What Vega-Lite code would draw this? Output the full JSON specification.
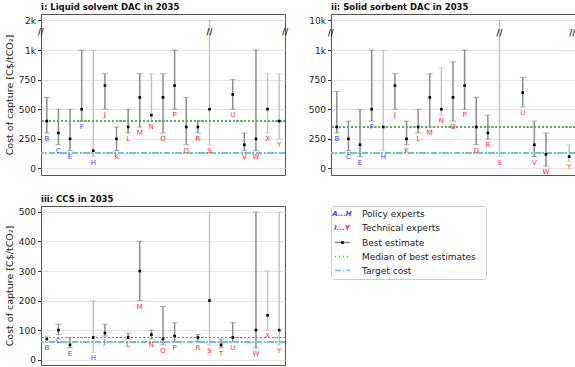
{
  "$schema": "https://vega.github.io/schema/vega-lite/v6.json",
  "padding": {"top": 2, "left": 3, "right": 0, "bottom": 0},
  "background": "white",
  "config": {
    "font": "DejaVu Sans",
    "view": {"stroke": "#555555", "strokeWidth": 1},
    "axis": {"labelFontSize": 9, "labelColor": "#222222", "titleFontSize": 9.5, "titleFontWeight": "normal", "titleColor": "#222222", "domain": false, "tickColor": "#333333", "tickSize": 3.5, "gridColor": "#e4e4e4", "gridWidth": 1.2, "labelPadding": 2, "titlePadding": 4, "labelOverlap": false},
    "title": {"fontSize": 8.5, "fontWeight": "bold", "anchor": "start", "frame": "group", "offset": 3, "color": "#111111"}
  },
  "datasets": {
    "liquid": [
      {"expert": "B", "lo": 300, "best": 400, "hi": 600, "group": "policy", "certainty": "high"},
      {"expert": "C", "lo": 200, "best": 300, "hi": 500, "group": "policy", "certainty": "high"},
      {"expert": "E", "lo": 150, "best": 250, "hi": 500, "group": "policy", "certainty": "high"},
      {"expert": "F", "lo": 400, "best": 500, "hi": 1000, "group": "policy", "certainty": "high"},
      {"expert": "H", "lo": 100, "best": 150, "hi": 1000, "group": "policy", "certainty": "low"},
      {"expert": "J", "lo": 500, "best": 700, "hi": 800, "group": "technical", "certainty": "high"},
      {"expert": "K", "lo": 150, "best": 250, "hi": 350, "group": "technical", "certainty": "high"},
      {"expert": "L", "lo": 300, "best": 350, "hi": 500, "group": "technical", "certainty": "high"},
      {"expert": "M", "lo": 350, "best": 600, "hi": 800, "group": "technical", "certainty": "high"},
      {"expert": "N", "lo": 400, "best": 450, "hi": 800, "group": "technical", "certainty": "low"},
      {"expert": "O", "lo": 300, "best": 600, "hi": 800, "group": "technical", "certainty": "high"},
      {"expert": "P", "lo": 500, "best": 700, "hi": 1000, "group": "technical", "certainty": "high"},
      {"expert": "Q", "lo": 200, "best": 350, "hi": 600, "group": "technical", "certainty": "high"},
      {"expert": "R", "lo": 300, "best": 350, "hi": 400, "group": "technical", "certainty": "high"},
      {"expert": "S", "lo": 200, "best": 500, "hi": 2000, "group": "technical", "certainty": "low"},
      {"expert": "U", "lo": 500, "best": 625, "hi": 750, "group": "technical", "certainty": "high"},
      {"expert": "V", "lo": 150, "best": 200, "hi": 300, "group": "technical", "certainty": "high"},
      {"expert": "W", "lo": 150, "best": 250, "hi": 1000, "group": "technical", "certainty": "high"},
      {"expert": "X", "lo": 300, "best": 500, "hi": 800, "group": "technical", "certainty": "low"},
      {"expert": "Y", "lo": 250, "best": 400, "hi": 800, "group": "technical", "certainty": "low"}
    ],
    "solid": [
      {"expert": "B", "lo": 300, "best": 350, "hi": 650, "group": "policy", "certainty": "high"},
      {"expert": "C", "lo": 150, "best": 250, "hi": 400, "group": "policy", "certainty": "high"},
      {"expert": "E", "lo": 100, "best": 200, "hi": 500, "group": "policy", "certainty": "high"},
      {"expert": "F", "lo": 400, "best": 500, "hi": 1000, "group": "policy", "certainty": "high"},
      {"expert": "H", "lo": 150, "best": 350, "hi": 1000, "group": "policy", "certainty": "low"},
      {"expert": "J", "lo": 500, "best": 700, "hi": 800, "group": "technical", "certainty": "high"},
      {"expert": "K", "lo": 200, "best": 250, "hi": 400, "group": "technical", "certainty": "high"},
      {"expert": "L", "lo": 300, "best": 350, "hi": 500, "group": "technical", "certainty": "high"},
      {"expert": "M", "lo": 350, "best": 600, "hi": 800, "group": "technical", "certainty": "high"},
      {"expert": "N", "lo": 450, "best": 500, "hi": 850, "group": "technical", "certainty": "low"},
      {"expert": "O", "lo": 400, "best": 600, "hi": 900, "group": "technical", "certainty": "high"},
      {"expert": "P", "lo": 500, "best": 700, "hi": 1000, "group": "technical", "certainty": "high"},
      {"expert": "Q", "lo": 200, "best": 350, "hi": 600, "group": "technical", "certainty": "high"},
      {"expert": "R", "lo": 250, "best": 300, "hi": 450, "group": "technical", "certainty": "high"},
      {"expert": "S", "lo": 100, "best": null, "hi": 10000, "group": "technical", "certainty": "low"},
      {"expert": "U", "lo": 520, "best": 640, "hi": 770, "group": "technical", "certainty": "high"},
      {"expert": "V", "lo": 100, "best": 200, "hi": 400, "group": "technical", "certainty": "high"},
      {"expert": "W", "lo": 20, "best": 120, "hi": 300, "group": "technical", "certainty": "high"},
      {"expert": "Y", "lo": 60, "best": 100, "hi": 200, "group": "technical", "certainty": "low"}
    ],
    "ccs": [
      {"expert": "B", "lo": 60, "best": 70, "hi": 80, "group": "policy", "certainty": "low"},
      {"expert": "C", "lo": 85, "best": 100, "hi": 120, "group": "policy", "certainty": "high"},
      {"expert": "E", "lo": 40, "best": 50, "hi": 75, "group": "policy", "certainty": "high"},
      {"expert": "H", "lo": 25, "best": 75, "hi": 200, "group": "policy", "certainty": "low"},
      {"expert": "J", "lo": 80, "best": 90, "hi": 120, "group": "technical", "certainty": "high"},
      {"expert": "L", "lo": 70, "best": 75, "hi": 90, "group": "technical", "certainty": "high"},
      {"expert": "M", "lo": 200, "best": 300, "hi": 400, "group": "technical", "certainty": "high"},
      {"expert": "N", "lo": 70, "best": 85, "hi": 100, "group": "technical", "certainty": "high"},
      {"expert": "O", "lo": 50, "best": 70, "hi": 180, "group": "technical", "certainty": "high"},
      {"expert": "P", "lo": 60, "best": 80, "hi": 125, "group": "technical", "certainty": "high"},
      {"expert": "R", "lo": 60, "best": 75, "hi": 85, "group": "technical", "certainty": "high"},
      {"expert": "S", "lo": 50, "best": 200, "hi": 500, "group": "technical", "certainty": "low"},
      {"expert": "T", "lo": 40, "best": 50, "hi": 70, "group": "technical", "certainty": "high"},
      {"expert": "U", "lo": 60, "best": 75, "hi": 125, "group": "technical", "certainty": "high"},
      {"expert": "W", "lo": 40, "best": 100, "hi": 500, "group": "technical", "certainty": "high"},
      {"expert": "X", "lo": 100, "best": 150, "hi": 300, "group": "technical", "certainty": "low"},
      {"expert": "Y", "lo": 50, "best": 100, "hi": 500, "group": "technical", "certainty": "low"}
    ],
    "legend": [
      {"order": 1, "label": "Policy experts", "kind": "policy", "sample": "A...H"},
      {"order": 2, "label": "Technical experts", "kind": "technical", "sample": "I...Y"},
      {"order": 3, "label": "Best estimate", "kind": "best", "sample": ""},
      {"order": 4, "label": "Median of best estimates", "kind": "median", "sample": ""},
      {"order": 5, "label": "Target cost", "kind": "target", "sample": ""}
    ]
  },
  "columns": 2,
  "align": "each",
  "spacing": {"row": 18, "column": 18},
  "concat": [
    {
      "title": "i: Liquid solvent DAC in 2035",
      "width": 244,
      "height": 161,
      "data": {"name": "liquid"},
      "layer": [
        {"mark": {"type": "rule", "strokeWidth": 1.5},
         "encoding": {
           "x": {"field": "expert", "type": "nominal", "axis": null,
             "scale": {"type": "point", "padding": 0.5, "domain": ["B","C","E","F","H","J","K","L","M","N","O","P","Q","R","S","T","U","V","W","X","Y"]}},
           "y": {"field": "lo", "type": "quantitative",
             "scale": {"domain": [-55, 1000, 2000, 2212], "range": [161, 36, 6.3, 0], "nice": false, "zero": false},
             "axis": {"values": [0, 250, 500, 750, 1000, 2000], "tickCount": 20, "labelExpr": "datum.value >= 1000 ? (datum.value / 1000) + 'k' : datum.value", "title": "Cost of capture [C$/tCO₂]", "grid": true}},
           "y2": {"field": "hi"},
           "color": {"field": "certainty", "type": "nominal", "legend": null,
             "scale": {"domain": ["high", "low", "policy", "technical", "best", "median", "target"], "range": ["#8c8c8c", "#c4c4c4", "#3d3dff", "#ff2b2b", "#8c8c8c", "#5aae5a", "#6cc8c8"]}}
         }},
        {"mark": {"type": "tick", "size": 6, "thickness": 1},
         "encoding": {"x": {"field": "expert", "type": "nominal"}, "y": {"field": "hi", "type": "quantitative"}, "color": {"field": "certainty", "type": "nominal", "legend": null}}},
        {"mark": {"type": "tick", "size": 6, "thickness": 1},
         "encoding": {"x": {"field": "expert", "type": "nominal"}, "y": {"field": "lo", "type": "quantitative"}, "color": {"field": "certainty", "type": "nominal", "legend": null}}},
        {"mark": {"type": "rule", "color": "#5aae5a", "strokeWidth": 1.2, "strokeDash": [1.3, 2.6]},
         "encoding": {"y": {"datum": 400, "type": "quantitative"}}},
        {"mark": {"type": "rule", "color": "#6cc8c8", "strokeWidth": 1.5, "strokeDash": [6, 2, 1.5, 2]},
         "encoding": {"y": {"datum": 130, "type": "quantitative"}}},
        {"mark": {"type": "square", "size": 7, "color": "black", "opacity": 1},
         "encoding": {"x": {"field": "expert", "type": "nominal"}, "y": {"field": "best", "type": "quantitative"}}},
        {"mark": {"type": "text", "fontSize": 7, "baseline": "top", "dy": 2},
         "encoding": {"x": {"field": "expert", "type": "nominal"}, "y": {"field": "lo", "type": "quantitative"}, "text": {"field": "expert"},
           "color": {"field": "group", "type": "nominal", "legend": null}}},
        {"data": {"values": [{"at": "S"}]},
         "mark": {"type": "text", "fontSize": 8, "fontWeight": "bold", "text": "//", "color": "#111111"},
         "encoding": {"x": {"field": "at", "type": "nominal"}, "y": {"datum": 1560, "type": "quantitative"}}},
        {"data": {"values": [{"at": "B"}]},
         "mark": {"type": "text", "fontSize": 8, "fontWeight": "bold", "text": "//", "color": "#111111", "dx": -6},
         "encoding": {"x": {"field": "at", "type": "nominal"}, "y": {"datum": 1560, "type": "quantitative"}}},
        {"data": {"values": [{"at": "Y"}]},
         "mark": {"type": "text", "fontSize": 8, "fontWeight": "bold", "text": "//", "color": "#111111", "dx": 6},
         "encoding": {"x": {"field": "at", "type": "nominal"}, "y": {"datum": 1560, "type": "quantitative"}}}
      ]
    },
    {
      "title": "ii: Solid sorbent DAC in 2035",
      "width": 244,
      "height": 161,
      "data": {"name": "solid"},
      "layer": [
        {"mark": {"type": "rule", "strokeWidth": 1.5},
         "encoding": {
           "x": {"field": "expert", "type": "nominal", "axis": null,
             "scale": {"type": "point", "padding": 0.5, "domain": ["B","C","E","F","H","J","K","L","M","N","O","P","Q","R","S","T","U","V","W","X","Y"]}},
           "y": {"field": "lo", "type": "quantitative",
             "scale": {"domain": [-55, 1000, 10000, 11900], "range": [161, 36, 6.3, 0], "nice": false, "zero": false},
             "axis": {"values": [0, 250, 500, 750, 1000, 10000], "tickCount": 20, "labelExpr": "datum.value >= 1000 ? (datum.value / 1000) + 'k' : datum.value", "title": null, "grid": true}},
           "y2": {"field": "hi"},
           "color": {"field": "certainty", "type": "nominal", "legend": null}
         }},
        {"mark": {"type": "tick", "size": 6, "thickness": 1},
         "encoding": {"x": {"field": "expert", "type": "nominal"}, "y": {"field": "hi", "type": "quantitative"}, "color": {"field": "certainty", "type": "nominal", "legend": null}}},
        {"mark": {"type": "tick", "size": 6, "thickness": 1},
         "encoding": {"x": {"field": "expert", "type": "nominal"}, "y": {"field": "lo", "type": "quantitative"}, "color": {"field": "certainty", "type": "nominal", "legend": null}}},
        {"mark": {"type": "rule", "color": "#5aae5a", "strokeWidth": 1.2, "strokeDash": [1.3, 2.6]},
         "encoding": {"y": {"datum": 350, "type": "quantitative"}}},
        {"mark": {"type": "rule", "color": "#6cc8c8", "strokeWidth": 1.5, "strokeDash": [6, 2, 1.5, 2]},
         "encoding": {"y": {"datum": 130, "type": "quantitative"}}},
        {"mark": {"type": "square", "size": 7, "color": "black", "opacity": 1},
         "encoding": {"x": {"field": "expert", "type": "nominal"}, "y": {"field": "best", "type": "quantitative"}}},
        {"mark": {"type": "text", "fontSize": 7, "baseline": "top", "dy": 2},
         "encoding": {"x": {"field": "expert", "type": "nominal"}, "y": {"field": "lo", "type": "quantitative"}, "text": {"field": "expert"},
           "color": {"field": "group", "type": "nominal", "legend": null}}},
        {"data": {"values": [{"at": "S"}]},
         "mark": {"type": "text", "fontSize": 8, "fontWeight": "bold", "text": "//", "color": "#111111"},
         "encoding": {"x": {"field": "at", "type": "nominal"}, "y": {"datum": 6000, "type": "quantitative"}}},
        {"data": {"values": [{"at": "B"}]},
         "mark": {"type": "text", "fontSize": 8, "fontWeight": "bold", "text": "//", "color": "#111111", "dx": -6},
         "encoding": {"x": {"field": "at", "type": "nominal"}, "y": {"datum": 6000, "type": "quantitative"}}},
        {"data": {"values": [{"at": "Y"}]},
         "mark": {"type": "text", "fontSize": 8, "fontWeight": "bold", "text": "//", "color": "#111111", "dx": 6, "align": "right"},
         "encoding": {"x": {"field": "at", "type": "nominal"}, "y": {"datum": 6000, "type": "quantitative"}}}
      ]
    },
    {
      "title": "iii: CCS in 2035",
      "width": 244,
      "height": 159,
      "data": {"name": "ccs"},
      "layer": [
        {"mark": {"type": "rule", "strokeWidth": 1.5},
         "encoding": {
           "x": {"field": "expert", "type": "nominal", "axis": null,
             "scale": {"type": "point", "padding": 0.5, "domain": ["B","C","E","F","H","J","K","L","M","N","O","P","Q","R","S","T","U","V","W","X","Y"]}},
           "y": {"field": "lo", "type": "quantitative",
             "scale": {"domain": [-18, 520], "nice": false, "zero": false},
             "axis": {"values": [0, 100, 200, 300, 400, 500], "tickCount": 20, "title": "Cost of capture [C$/tCO₂]", "grid": true}},
           "y2": {"field": "hi"},
           "color": {"field": "certainty", "type": "nominal", "legend": null}
         }},
        {"mark": {"type": "tick", "size": 6, "thickness": 1},
         "encoding": {"x": {"field": "expert", "type": "nominal"}, "y": {"field": "hi", "type": "quantitative"}, "color": {"field": "certainty", "type": "nominal", "legend": null}}},
        {"mark": {"type": "tick", "size": 6, "thickness": 1},
         "encoding": {"x": {"field": "expert", "type": "nominal"}, "y": {"field": "lo", "type": "quantitative"}, "color": {"field": "certainty", "type": "nominal", "legend": null}}},
        {"mark": {"type": "rule", "color": "#5aae5a", "strokeWidth": 1.2, "strokeDash": [1.3, 2.6]},
         "encoding": {"y": {"datum": 75, "type": "quantitative"}}},
        {"mark": {"type": "rule", "color": "#6cc8c8", "strokeWidth": 1.5, "strokeDash": [6, 2, 1.5, 2]},
         "encoding": {"y": {"datum": 60, "type": "quantitative"}}},
        {"mark": {"type": "square", "size": 7, "color": "black", "opacity": 1},
         "encoding": {"x": {"field": "expert", "type": "nominal"}, "y": {"field": "best", "type": "quantitative"}}},
        {"mark": {"type": "text", "fontSize": 7, "baseline": "top", "dy": 2},
         "encoding": {"x": {"field": "expert", "type": "nominal"}, "y": {"field": "lo", "type": "quantitative"}, "text": {"field": "expert"},
           "color": {"field": "group", "type": "nominal", "legend": null}}}
      ]
    },
    {
      "width": 155,
      "height": 73,
      "view": {"stroke": "#cccccc", "strokeWidth": 1, "cornerRadius": 3},
      "data": {"name": "legend"},
      "layer": [
        {"transform": [{"filter": "datum.sample != ''"}],
         "mark": {"type": "text", "fontSize": 7, "fontStyle": "italic", "fontWeight": "bold", "align": "center"},
         "encoding": {
           "y": {"field": "order", "type": "ordinal", "axis": null, "scale": {"type": "point", "padding": 0.6, "domain": [1, 2, 3, 4, 5]}},
           "x": {"datum": 11, "type": "quantitative", "scale": {"domain": [0, 155], "nice": false, "zero": false}, "axis": null},
           "text": {"field": "sample"},
           "color": {"field": "kind", "type": "nominal", "legend": null}
         }},
        {"transform": [{"filter": "datum.sample == ''"}],
         "mark": {"type": "rule", "strokeWidth": 1.5},
         "encoding": {
           "y": {"field": "order", "type": "ordinal"},
           "x": {"datum": 4, "type": "quantitative"},
           "x2": {"datum": 19},
           "color": {"field": "kind", "type": "nominal", "legend": null},
           "strokeDash": {"field": "kind", "type": "nominal", "legend": null,
             "scale": {"domain": ["best", "median", "target"], "range": [[1, 0], [1.3, 2.6], [6, 2, 1.5, 2]]}}
         }},
        {"transform": [{"filter": "datum.kind == 'best'"}],
         "mark": {"type": "square", "size": 7, "color": "black", "opacity": 1},
         "encoding": {
           "y": {"field": "order", "type": "ordinal"},
           "x": {"datum": 11.5, "type": "quantitative"}
         }},
        {"mark": {"type": "text", "fontSize": 9, "align": "left", "color": "#222222"},
         "encoding": {
           "y": {"field": "order", "type": "ordinal"},
           "x": {"datum": 31, "type": "quantitative"},
           "text": {"field": "label"}
         }}
      ]
    }
  ]
}
